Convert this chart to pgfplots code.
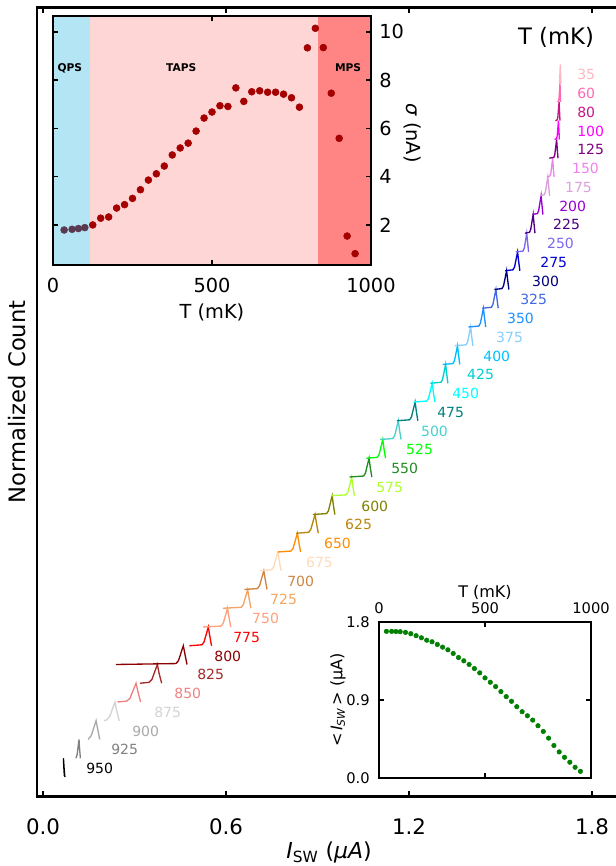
\documentclass[border=0pt]{standalone}
\usepackage{fontspec}
\setmainfont{DejaVu Sans}
\usepackage{pgfplots}
\pgfplotsset{compat=1.18}

% curve colours, one per temperature (mK)
\definecolor{c35}{HTML}{FFB6C1}
\definecolor{c60}{HTML}{FF69B4}
\definecolor{c80}{HTML}{C71585}
\definecolor{c100}{HTML}{FF00FF}
\definecolor{c125}{HTML}{800080}
\definecolor{c150}{HTML}{EE82EE}
\definecolor{c175}{HTML}{DDA0DD}
\definecolor{c200}{HTML}{9400D3}
\definecolor{c225}{HTML}{4B0082}
\definecolor{c250}{HTML}{7B68EE}
\definecolor{c275}{HTML}{0000CD}
\definecolor{c300}{HTML}{000080}
\definecolor{c325}{HTML}{4169E1}
\definecolor{c350}{HTML}{1E90FF}
\definecolor{c375}{HTML}{87CEFA}
\definecolor{c400}{HTML}{00BFFF}
\definecolor{c425}{HTML}{00CED1}
\definecolor{c450}{HTML}{00FFFF}
\definecolor{c475}{HTML}{008080}
\definecolor{c500}{HTML}{48D1CC}
\definecolor{c525}{HTML}{00FF00}
\definecolor{c550}{HTML}{228B22}
\definecolor{c575}{HTML}{ADFF2F}
\definecolor{c600}{HTML}{808000}
\definecolor{c625}{HTML}{B8860B}
\definecolor{c650}{HTML}{FF8C00}
\definecolor{c675}{HTML}{FFDAB9}
\definecolor{c700}{HTML}{CD853F}
\definecolor{c725}{HTML}{F4A460}
\definecolor{c750}{HTML}{FFA07A}
\definecolor{c775}{HTML}{FF0000}
\definecolor{c800}{HTML}{8B0000}
\definecolor{c825}{HTML}{A52A2A}
\definecolor{c850}{HTML}{F08080}
\definecolor{c875}{HTML}{D3D3D3}
\definecolor{c900}{HTML}{A9A9A9}
\definecolor{c925}{HTML}{808080}
\definecolor{c950}{HTML}{000000}
\definecolor{qps}{HTML}{B3E5F5}
\definecolor{taps}{HTML}{FFD6D6}
\definecolor{mps}{HTML}{FF8585}
\definecolor{sigred}{HTML}{A50000}
\definecolor{sigdark}{HTML}{5A3A50}
\definecolor{iswgreen}{HTML}{008000}

\pgfplotsset{
    hist/.style={line width=1pt, no markers},
}
\tikzset{
    tlab/.style={anchor=west, inner sep=0pt, font=\fontsize{10.5}{12}\selectfont},
    region/.style={font=\bfseries\fontsize{8}{9}\selectfont},
}

\begin{document}
\begin{tikzpicture}
\path[use as bounding box] (0,0) rectangle (462pt,649.5pt);

% ---------------- main panel: stacked histograms ----------------
\begin{axis}[
    scale only axis, width=437.25pt, height=591.75pt,
    at={(27.75pt,52.125pt)}, anchor=south west,
    xmin=-0.0197, xmax=1.8918, ymin=-1.04, ymax=41.04,
    axis line style={line width=2pt},
    xtick={0,0.6,1.2,1.8}, xticklabels={0.0,0.6,1.2,1.8},
    ytick=\empty,
    tick align=inside, major tick length=4pt,
    tick style={line width=1.5pt, black},
    xticklabel style={anchor=center, yshift=-22.5pt, inner sep=0pt,
        font=\fontsize{16}{19}\selectfont},
    xlabel={\textit{I}\textsubscript{SW} (\textit{μA})},
    xlabel style={at={(axis description cs:0.501,-0.0712)}, anchor=center,
        font=\fontsize{16.5}{19}\selectfont},
    ylabel={Normalized Count},
    ylabel style={at={(axis description cs:-0.0343,0.5)}, anchor=center,
        font=\fontsize{17}{20}\selectfont},
]
\addplot[hist, c950] coordinates {(0.072,0) (0.071,0.1) (0.069,0.5) (0.067,1.0) (0.068,0.6) (0.070,0.05)};
\addplot[hist, c925] coordinates {(0.108,1) (0.109,1.05) (0.112,1.2) (0.115,1.6) (0.118,2.0) (0.120,1.5) (0.1225,1.0)};
\addplot[hist, c900] coordinates {(0.148,2) (0.150,2.05) (0.158,2.2) (0.166,2.6) (0.174,3.0) (0.180,2.5) (0.186,2.0)};
\addplot[hist, c875] coordinates {(0.200,3) (0.209,3.05) (0.218,3.2) (0.227,3.6) (0.236,4.0) (0.242,3.5) (0.250,3.0)};
\addplot[hist, c850] coordinates {(0.244,4) (0.275,4.05) (0.285,4.2) (0.295,4.6) (0.305,5.0) (0.312,4.5) (0.320,4.0)};
\addplot[hist, c825] coordinates {(0.318,5) (0.348,5.05) (0.357,5.2) (0.366,5.6) (0.375,6.0) (0.381,5.5) (0.389,5.0)};
\addplot[hist, c800] coordinates {(0.239,6) (0.436,6.05) (0.444,6.2) (0.452,6.6) (0.460,7.0) (0.466,6.5) (0.472,6.0)};
\addplot[hist, c775] coordinates {(0.480,7) (0.521,7.05) (0.528,7.2) (0.535,7.6) (0.542,8.0) (0.547,7.5) (0.5525,7.0)};
\addplot[hist, c750] coordinates {(0.524,8) (0.584,8.05) (0.591,8.2) (0.598,8.6) (0.605,9.0) (0.610,8.5) (0.6155,8.0)};
\addplot[hist, c725] coordinates {(0.590,9) (0.650,9.05) (0.657,9.2) (0.664,9.6) (0.671,10.0) (0.676,9.5) (0.6815,9.0)};
\addplot[hist, c700] coordinates {(0.660,10) (0.703,10.05) (0.710,10.2) (0.717,10.6) (0.724,11.0) (0.729,10.5) (0.7345,10.0)};
\addplot[hist, c675] coordinates {(0.710,11) (0.749,11.05) (0.756,11.2) (0.763,11.6) (0.770,12.0) (0.775,11.5) (0.7805,11.0)};
\addplot[hist, c650] coordinates {(0.770,12) (0.813,12.05) (0.820,12.2) (0.827,12.6) (0.834,13.0) (0.839,12.5) (0.8445,12.0)};
\addplot[hist, c625] coordinates {(0.830,13) (0.871,13.05) (0.878,13.2) (0.885,13.6) (0.892,14.0) (0.897,13.5) (0.9025,13.0)};
\addplot[hist, c600] coordinates {(0.885,14) (0.930,14.05) (0.936,14.2) (0.942,14.6) (0.948,15.0) (0.952,14.5) (0.957,14.0)};
\addplot[hist, c575] coordinates {(0.945,15) (0.994,15.05) (1.000,15.2) (1.006,15.6) (1.012,16.0) (1.016,15.5) (1.021,15.0)};
\addplot[hist, c550] coordinates {(1.005,16) (1.051,16.05) (1.057,16.2) (1.063,16.6) (1.069,17.0) (1.073,16.5) (1.078,16.0)};
\addplot[hist, c525] coordinates {(1.060,17) (1.096,17.05) (1.102,17.2) (1.108,17.6) (1.114,18.0) (1.118,17.5) (1.123,17.0)};
\addplot[hist, c500] coordinates {(1.105,18) (1.147,18.05) (1.153,18.2) (1.159,18.6) (1.165,19.0) (1.169,18.5) (1.174,18.0)};
\addplot[hist, c475] coordinates {(1.160,19) (1.202,19.05) (1.208,19.2) (1.214,19.6) (1.220,20.0) (1.224,19.5) (1.229,19.0)};
\addplot[hist, c450] coordinates {(1.215,20) (1.258,20.05) (1.264,20.2) (1.270,20.6) (1.276,21.0) (1.280,20.5) (1.285,20.0)};
\addplot[hist, c425] coordinates {(1.270,21) (1.305,21.05) (1.310,21.2) (1.315,21.6) (1.320,22.0) (1.3235,21.5) (1.3275,21.0)};
\addplot[hist, c400] coordinates {(1.310,22) (1.344,22.05) (1.349,22.2) (1.354,22.6) (1.359,23.0) (1.3625,22.5) (1.3665,22.0)};
\addplot[hist, c375] coordinates {(1.350,23) (1.387,23.05) (1.392,23.2) (1.397,23.6) (1.402,24.0) (1.4055,23.5) (1.4095,23.0)};
\addplot[hist, c350] coordinates {(1.395,24) (1.429,24.05) (1.434,24.2) (1.439,24.6) (1.444,25.0) (1.4475,24.5) (1.4515,24.0)};
\addplot[hist, c325] coordinates {(1.440,25) (1.470,25.05) (1.475,25.2) (1.480,25.6) (1.485,26.0) (1.4885,25.5) (1.4925,25.0)};
\addplot[hist, c300] coordinates {(1.480,26) (1.505,26.05) (1.510,26.2) (1.515,26.6) (1.520,27.0) (1.5235,26.5) (1.5275,26.0)};
\addplot[hist, c275] coordinates {(1.515,27) (1.541,27.05) (1.546,27.2) (1.551,27.6) (1.556,28.0) (1.5595,27.5) (1.5635,27.0)};
\addplot[hist, c250] coordinates {(1.550,28) (1.574,28.05) (1.578,28.2) (1.582,28.6) (1.586,29.0) (1.589,28.5) (1.592,28.0)};
\addplot[hist, c225] coordinates {(1.580,29) (1.595,29.05) (1.599,29.2) (1.603,29.6) (1.607,30.0) (1.610,29.5) (1.613,29.0)};
\addplot[hist, c200] coordinates {(1.605,30) (1.621,30.05) (1.625,30.2) (1.629,30.6) (1.633,31.0) (1.636,30.5) (1.639,30.0)};
\addplot[hist, c175] coordinates {(1.630,31) (1.643,31.05) (1.647,31.2) (1.651,31.6) (1.655,32.0) (1.658,31.5) (1.661,31.0)};
\addplot[hist, c150] coordinates {(1.652,32) (1.662,32.05) (1.665,32.2) (1.668,32.6) (1.671,33.0) (1.673,32.5) (1.6755,32.0)};
\addplot[hist, c125] coordinates {(1.660,33) (1.675,33.05) (1.678,33.2) (1.681,33.6) (1.684,34.0) (1.686,33.5) (1.6885,33.0)};
\addplot[hist, c100] coordinates {(1.677,34) (1.684,34.05) (1.686,34.2) (1.688,34.6) (1.690,35.0) (1.6915,34.5) (1.693,34.0)};
\addplot[hist, c80] coordinates {(1.680,35) (1.686,35.05) (1.688,35.2) (1.690,35.6) (1.692,36.0) (1.6935,35.5) (1.695,35.0)};
\addplot[hist, c60] coordinates {(1.687,36) (1.6905,36.05) (1.692,36.2) (1.6935,36.6) (1.695,37.0) (1.696,36.5) (1.697,36.0)};
\addplot[hist, c35] coordinates {(1.692,37) (1.693,37.05) (1.694,37.2) (1.695,37.6) (1.696,38.0) (1.697,37.5) (1.698,37.0)};

% temperature labels
\node[tlab, text=c950] at (axis cs:0.141,0.45) {950};
\node[tlab, text=c925] at (axis cs:0.223,1.45) {925};
\node[tlab, text=c900] at (axis cs:0.292,2.45) {900};
\node[tlab, text=c875] at (axis cs:0.364,3.45) {875};
\node[tlab, text=c850] at (axis cs:0.430,4.45) {850};
\node[tlab, text=c825] at (axis cs:0.505,5.45) {825};
\node[tlab, text=c800] at (axis cs:0.561,6.45) {800};
\node[tlab, text=c775] at (axis cs:0.623,7.45) {775};
\node[tlab, text=c750] at (axis cs:0.685,8.45) {750};
\node[tlab, text=c725] at (axis cs:0.744,9.45) {725};
\node[tlab, text=c700] at (axis cs:0.800,10.45) {700};
\node[tlab, text=c675] at (axis cs:0.862,11.45) {675};
\node[tlab, text=c650] at (axis cs:0.921,12.45) {650};
\node[tlab, text=c625] at (axis cs:0.990,13.45) {625};
\node[tlab, text=c600] at (axis cs:1.043,14.45) {600};
\node[tlab, text=c575] at (axis cs:1.092,15.45) {575};
\node[tlab, text=c550] at (axis cs:1.141,16.45) {550};
\node[tlab, text=c525] at (axis cs:1.190,17.45) {525};
\node[tlab, text=c500] at (axis cs:1.239,18.45) {500};
\node[tlab, text=c475] at (axis cs:1.292,19.45) {475};
\node[tlab, text=c450] at (axis cs:1.341,20.45) {450};
\node[tlab, text=c425] at (axis cs:1.390,21.45) {425};
\node[tlab, text=c400] at (axis cs:1.443,22.45) {400};
\node[tlab, text=c375] at (axis cs:1.485,23.45) {375};
\node[tlab, text=c350] at (axis cs:1.521,24.45) {350};
\node[tlab, text=c325] at (axis cs:1.564,25.45) {325};
\node[tlab, text=c300] at (axis cs:1.603,26.45) {300};
\node[tlab, text=c275] at (axis cs:1.630,27.45) {275};
\node[tlab, text=c250] at (axis cs:1.652,28.45) {250};
\node[tlab, text=c225] at (axis cs:1.672,29.45) {225};
\node[tlab, text=c200] at (axis cs:1.692,30.45) {200};
\node[tlab, text=c175] at (axis cs:1.711,31.45) {175};
\node[tlab, text=c150] at (axis cs:1.734,32.45) {150};
\node[tlab, text=c125] at (axis cs:1.751,33.45) {125};
\node[tlab, text=c100] at (axis cs:1.751,34.45) {100};
\node[tlab, text=c80] at (axis cs:1.751,35.45) {80};
\node[tlab, text=c60] at (axis cs:1.751,36.45) {60};
\node[tlab, text=c35] at (axis cs:1.751,37.45) {35};
\node[font=\fontsize{17}{20}\selectfont] at (axis cs:1.682,39.47) {T (mK)};
\end{axis}

% ---------------- inset: sigma vs T ----------------
\begin{axis}[
    scale only axis, width=238.5pt, height=186.75pt,
    at={(39.75pt,450.75pt)}, anchor=south west,
    xmin=0, xmax=1000, ymin=0.34, ymax=10.66,
    axis on top,
    axis line style={line width=1.5pt},
    xtick={0,500,1000}, xticklabels={0,500,1000},
    ytick={2,4,6,8,10}, yticklabels={2,4,6,8,10},
    yticklabel pos=right,
    tick align=inside, major tick length=4pt,
    tick style={line width=1.2pt, black},
    ticklabel style={inner sep=0pt, font=\fontsize{14.5}{17}\selectfont},
    xticklabel style={anchor=center, yshift=-15pt},
    yticklabel style={anchor=west, xshift=6pt},
    xlabel={T (mK)},
    xlabel style={at={(axis description cs:0.5,-0.189)}, anchor=center,
        font=\fontsize{14.5}{17}\selectfont},
    ylabel={\textit{σ} (nA)},
    ylabel style={at={(axis description cs:1.132,0.53)}, anchor=center, rotate=180,
        font=\fontsize{14.5}{17}\selectfont},
]
\addplot[draw=none, fill=qps] coordinates {(0,11) (116,11)} \closedcycle;
\addplot[draw=none, fill=taps] coordinates {(116,11) (832,11)} \closedcycle;
\addplot[draw=none, fill=mps] coordinates {(832,11) (1000,11)} \closedcycle;
\node[region] at (axis cs:53,8.5) {QPS};
\node[region] at (axis cs:403,8.5) {TAPS};
\node[region] at (axis cs:928,8.5) {MPS};
\addplot[only marks, mark=*, mark size=2.6pt, sigdark] coordinates {
    (35,1.79) (60,1.82) (80,1.85) (100,1.89)};
\addplot[only marks, mark=*, mark size=2.6pt, sigred] coordinates {
    (125,2.00) (150,2.28) (175,2.33) (200,2.70) (225,2.84) (250,3.10)
    (275,3.46) (300,3.86) (325,4.12) (350,4.44) (375,4.90) (400,5.19)
    (425,5.39) (450,5.89) (475,6.43) (500,6.68) (525,6.94) (550,6.91)
    (575,7.68) (600,7.12) (625,7.52) (650,7.56) (675,7.50) (700,7.50)
    (725,7.42) (750,7.27) (775,6.88) (800,9.34) (825,10.15) (850,9.35)
    (875,7.46) (900,5.59) (925,1.54) (950,0.81)};
\end{axis}

% ---------------- inset: mean switching current vs T ----------------
\begin{axis}[
    scale only axis, width=159pt, height=117pt,
    at={(284.25pt,66pt)}, anchor=south west,
    xmin=0, xmax=1000, ymin=0, ymax=1.8,
    axis line style={line width=1.5pt},
    xtick={0,500,1000}, xticklabels={0,500,1000},
    xticklabel pos=upper,
    ytick={0,0.9,1.8}, yticklabels={0.0,0.9,1.8},
    tick align=inside, major tick length=4pt,
    tick style={line width=1.2pt, black},
    ticklabel style={inner sep=0pt, font=\fontsize{11}{13}\selectfont},
    xticklabel style={anchor=center, yshift=10.5pt},
    yticklabel style={anchor=east, xshift=-6.75pt},
    xlabel={T (mK)},
    xlabel style={at={(axis description cs:0.5,1.186)}, anchor=center,
        font=\fontsize{12}{14}\selectfont},
    ylabel={{<}\,\textit{I}\textsubscript{\textit{SW}}\,{>} (μA)},
    ylabel style={at={(axis description cs:-0.193,0.5)}, anchor=center,
        font=\fontsize{12}{14}\selectfont},
]
\addplot[only marks, mark=*, mark size=1.7pt, iswgreen] coordinates {
    (35,1.692) (60,1.692) (80,1.690) (100,1.688) (125,1.680) (150,1.665)
    (175,1.642) (200,1.618) (225,1.590) (250,1.572) (275,1.541) (300,1.510)
    (325,1.479) (350,1.437) (375,1.390) (400,1.352) (425,1.310) (450,1.263)
    (475,1.213) (500,1.155) (525,1.105) (550,1.055) (575,0.997) (600,0.939)
    (625,0.885) (650,0.823) (675,0.765) (700,0.718) (725,0.668) (750,0.603)
    (775,0.537) (800,0.460) (825,0.375) (850,0.301) (875,0.239) (900,0.182)
    (925,0.124) (950,0.077)};
\end{axis}
\end{tikzpicture}
\end{document}
